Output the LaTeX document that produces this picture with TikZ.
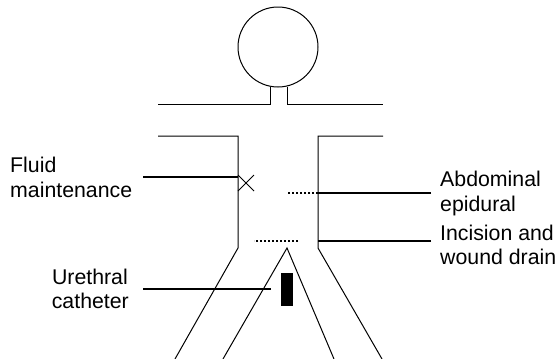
\documentclass[tikz,border=0pt]{standalone}
\usepackage{fontspec}
\setmainfont{Liberation Sans}
\begin{document}
\begin{tikzpicture}[x=1pt,y=-1pt,
  body/.style={line width=1pt},
  leader/.style={line width=1.6pt},
  dotline/.style={line width=1.6pt,dash pattern=on 1.6pt off 2.4pt},
  label/.style={inner sep=0pt,font=\fontsize{21.3}{25}\selectfont}]
\useasboundingbox (0,0) rectangle (558,359);
% head, neck and shoulders
\draw[body] (278,47) circle (40);
\draw[body] (158,104) -- (270,104) -- (270,87);
\draw[body] (287,87) -- (287,104) -- (383,104);
% arms and trunk
\draw[body] (158,136) -- (238,136) -- (238,248) -- (175,359);
\draw[body] (383,136) -- (318,136) -- (318,248) -- (382,359);
% legs
\draw[body] (223,359) -- (287,248) -- (334,359);
% cannula site
\draw[body] (238,175) -- (254,191);
\draw[body] (238,191) -- (254,175);
% catheter
\fill (281,273) rectangle (293,306);
% labels
\node[label,anchor=base west] (fluidA) at (10,172) {Fluid};
\node[label,anchor=base west] (fluidB) at (10,197) {maintenance};
\node[label,anchor=base east] (urethA) at (128,284) {Urethral};
\node[label,anchor=base east] (urethB) at (129,308) {catheter};
\node[label,anchor=base west] (abdA) at (440,186) {Abdominal};
\node[label,anchor=base west] (abdB) at (440,211) {epidural};
\node[label,anchor=base west] (incA) at (440,240) {Incision and};
\node[label,anchor=base west] (incB) at (440,264) {wound drain};
% leader lines
\coordinate (fl0) at (143,177);
\coordinate (fl1) at (238,177);
\coordinate (ur0) at (143,289);
\coordinate (ur1) at (271,289);
\coordinate (ab0) at (431,193);
\coordinate (ab1) at (318,193);
\coordinate (ab2) at (287,193);
\coordinate (in0) at (431,241);
\coordinate (in1) at (318,241);
\coordinate (wd0) at (298,241);
\coordinate (wd1) at (254,241);
\draw[leader] (fl0) -- (fl1);
\draw[leader] (ur0) -- (ur1);
\draw[leader] (ab0) -- (ab1);
\draw[dotline] (ab1) -- (ab2);
\draw[leader] (in0) -- (in1);
\draw[dotline] (wd0) -- (wd1);
\end{tikzpicture}
\end{document}
